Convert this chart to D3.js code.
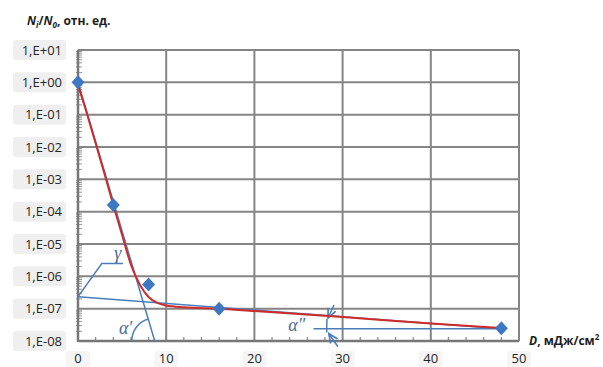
<!DOCTYPE html>
<html>
<head>
<meta charset="utf-8">
<script src="https://cdn.jsdelivr.net/npm/d3@7"></script>
<style>
  body { margin: 0; background: #fff; }
  svg { display: block; font-family: "Open Sans", sans-serif; }
</style>
</head>
<body>
<div id="container"></div>
<script>
/**
 * DATA
 * */
// measured points (blue diamonds)
const dose = [0, 4, 8, 16, 48]
const ratio = [1, 1.6e-4, 5.6e-7, 1.0e-7, 2.5e-8]

// fitted curve (red)
const fitDose = [0, 1, 2, 3, 4, 5, 6, 7, 8, 9, 10, 12, 16, 20, 30, 40, 48]
const fitRatio = [0.85, 1.1e-1, 1.3e-2, 1.5e-3, 1.6e-4, 1.9e-5, 2.3e-6, 5.6e-7, 2.3e-7,
  1.5e-7, 1.25e-7, 1.1e-7, 1.0e-7, 8.4e-8, 5.5e-8, 3.5e-8, 2.5e-8]

// construction lines (blue)
const fastDose = [0, 8.7]
const fastRatio = [1, 1e-8]
const slowDose = [0, 48]
const slowRatio = [2.35e-7, 2.4e-8]
const baseDose = [26.7, 48]
const baseRatio = [2.4e-8, 2.4e-8]
const gammaDose = [0, 2.7, 5.1]
const gammaRatio = [2.35e-7, 2.5e-6, 2.5e-6]

// ticks
const xTicks = [0, 10, 20, 30, 40, 50]
const yTicks = [1e1, 1e0, 1e-1, 1e-2, 1e-3, 1e-4, 1e-5, 1e-6, 1e-7, 1e-8]
const yTickLabels = ['1,E+01', '1,E+00', '1,E-01', '1,E-02', '1,E-03', '1,E-04', '1,E-05', '1,E-06', '1,E-07', '1,E-08']

/**
 * CONSTANTS
 * */
const width = 603,
  height = 367,
  margin = { top: 50, bottom: 26, left: 78, right: 84 }

const blue = '#4a7ebb',
  red = '#cf2b2b',
  grid = '#858585'

const svg = d3.select('#container')
  .append('svg')
  .attr('width', width)
  .attr('height', height)

const x = d3.scaleLinear().domain([0, 50]).range([margin.left, width - margin.right])
const y = d3.scaleLog().domain([1e-8, 10]).range([height - margin.bottom, margin.top])

// grid
svg.append('g')
  .selectAll('line')
  .data(yTicks)
  .join('line')
  .attr('x1', x(0)).attr('x2', x(50))
  .attr('y1', d => y(d)).attr('y2', d => y(d))
  .attr('stroke', grid).attr('stroke-width', 2)

svg.append('g')
  .selectAll('line')
  .data(xTicks.slice(1))
  .join('line')
  .attr('x1', d => x(d)).attr('x2', d => x(d))
  .attr('y1', y(10)).attr('y2', y(1e-8))
  .attr('stroke', grid).attr('stroke-width', 2)

// y minor ticks (log)
const minor = []
yTicks.slice(1).forEach(t => { for (let k = 2; k <= 9; k++) minor.push(t * k) })
svg.append('g')
  .selectAll('line')
  .data(minor)
  .join('line')
  .attr('x1', x(0) - 2).attr('x2', x(0) + 4)
  .attr('y1', d => y(d)).attr('y2', d => y(d))
  .attr('stroke', '#999').attr('stroke-width', 1)

// x minor ticks
svg.append('g')
  .selectAll('line')
  .data(d3.range(0, 51, 2))
  .join('line')
  .attr('x1', d => x(d)).attr('x2', d => x(d))
  .attr('y1', y(1e-8)).attr('y2', y(1e-8) - 4)
  .attr('stroke', '#888').attr('stroke-width', 1.2)

// axes lines
svg.append('line')
  .attr('x1', x(0)).attr('x2', x(0))
  .attr('y1', y(10)).attr('y2', y(1e-8) + 1)
  .attr('stroke', '#777').attr('stroke-width', 2.5)
svg.append('line')
  .attr('x1', x(0)).attr('x2', x(50))
  .attr('y1', y(1e-8)).attr('y2', y(1e-8))
  .attr('stroke', '#777').attr('stroke-width', 2.4)

// y tick labels with light boxes
const yl = svg.append('g')
  .selectAll('g')
  .data(yTicks)
  .join('g')
  .attr('transform', d => `translate(62,${y(d)})`)
yl.append('rect')
  .attr('x', -49).attr('y', -10).attr('width', 53).attr('height', 20)
  .attr('rx', 3).attr('fill', '#efefef')
yl.append('text')
  .attr('text-anchor', 'end')
  .attr('dy', '0.36em')
  .attr('font-size', 13)
  .attr('fill', '#262626')
  .text((d, i) => yTickLabels[i])

// x tick labels
const xl = svg.append('g')
  .selectAll('g')
  .data(xTicks)
  .join('g')
  .attr('transform', d => `translate(${x(d)},${y(1e-8)})`)
xl.append('rect')
  .attr('x', -12).attr('y', 10).attr('width', 24).attr('height', 16)
  .attr('rx', 3).attr('fill', '#f5f5f5')
xl.append('text')
  .attr('text-anchor', 'middle')
  .attr('y', 22)
  .attr('font-size', 13)
  .attr('fill', '#262626')
  .text(d => d)

// construction lines
const line = d3.line().x(d => x(d[0])).y(d => y(d[1]))
const blueLines = [
  d3.zip(fastDose, fastRatio),
  d3.zip(slowDose, slowRatio),
  d3.zip(baseDose, baseRatio),
  d3.zip(gammaDose, gammaRatio)
]
svg.append('g')
  .selectAll('path')
  .data(blueLines)
  .join('path')
  .attr('d', line)
  .attr('fill', 'none')
  .attr('stroke', blue)
  .attr('stroke-width', 1.5)

// angle alpha' at fast line / x axis
const a1x = x(fastDose[1]), a1y = y(fastRatio[1])
const a1ang = Math.atan2(y(fastRatio[0]) - a1y, x(fastDose[0]) - a1x)
const p1 = d3.path()
p1.arc(a1x, a1y, 23, Math.PI, 2 * Math.PI + a1ang)
svg.append('path')
  .attr('d', p1.toString())
  .attr('fill', 'none').attr('stroke', blue).attr('stroke-width', 1.5)

// angle alpha'' at slow line / horizontal
const a2x = x(slowDose[1]), a2y = y(slowRatio[1])
const a2ang = Math.atan2(y(slowRatio[0]) - a2y, x(slowDose[0]) - a2x)
const r2 = a2x - x(28.2)
const p2 = d3.path()
p2.arc(a2x, a2y, r2, Math.PI - 0.022, 2 * Math.PI + a2ang - 0.02, false)
svg.append('path')
  .attr('d', p2.toString())
  .attr('fill', 'none').attr('stroke', blue).attr('stroke-width', 1.5)

svg.append('defs').append('marker')
  .attr('id', 'arr')
  .attr('viewBox', '0 0 10 10')
  .attr('refX', 9).attr('refY', 5)
  .attr('markerWidth', 7).attr('markerHeight', 7)
  .attr('orient', 'auto')
  .append('path')
  .attr('d', 'M0,1 L9,5 L0,9')
  .attr('fill', 'none').attr('stroke', blue).attr('stroke-width', 1.6)

const topEnd = [a2x + r2 * Math.cos(a2ang - 0.02), a2y + r2 * Math.sin(2 * Math.PI + a2ang - 0.02)]
const botEnd = [a2x + r2 * Math.cos(Math.PI - 0.022), a2y + r2 * Math.sin(Math.PI - 0.022)]
svg.append('line')
  .attr('x1', topEnd[0] + 7).attr('y1', topEnd[1] - 14)
  .attr('x2', topEnd[0] + 1).attr('y2', topEnd[1] - 1)
  .attr('stroke', blue).attr('stroke-width', 1.5).attr('marker-end', 'url(#arr)')
svg.append('line')
  .attr('x1', botEnd[0] + 11).attr('y1', botEnd[1] + 14)
  .attr('x2', botEnd[0] + 2).attr('y2', botEnd[1] + 1)
  .attr('stroke', blue).attr('stroke-width', 1.5).attr('marker-end', 'url(#arr)')

// fitted curve
svg.append('path')
  .datum(d3.zip(fitDose, fitRatio))
  .attr('d', d3.line().x(d => x(d[0])).y(d => y(d[1])).curve(d3.curveMonotoneX))
  .attr('fill', 'none')
  .attr('stroke', red)
  .attr('stroke-width', 2)

// measured points
svg.append('g')
  .selectAll('path')
  .data(d3.zip(dose, ratio))
  .join('path')
  .attr('transform', d => `translate(${x(d[0])},${y(d[1])})`)
  .attr('d', 'M0,-7 L6.5,0 L0,7 L-6.5,0Z')
  .attr('fill', '#3f78c2')

// greek labels
const greek = svg.append('g')
  .attr('font-family', '"Liberation Serif", "DejaVu Serif", serif')
  .attr('font-style', 'italic')
  .attr('font-size', 18)
  .attr('fill', '#4a6a96')
  .attr('text-anchor', 'middle')
greek.append('text').attr('x', x(4.5)).attr('y', y(3.5e-6)).text('γ')
greek.append('text').attr('x', x(5.4)).attr('y', y(1.7e-8)).text('α′')
greek.append('text').attr('x', x(24.8)).attr('y', y(2.0e-8)).text('α″')

// axis titles
const title = svg.append('text')
  .attr('x', 27).attr('y', 25)
  .attr('font-size', 12)
  .attr('font-weight', 'bold')
  .attr('fill', '#1e1e1e')
title.append('tspan').attr('font-style', 'italic').text('N')
title.append('tspan').attr('font-style', 'italic').attr('font-size', 8).attr('dy', 3).text('i')
title.append('tspan').attr('dy', -3).text('/')
title.append('tspan').attr('font-style', 'italic').text('N')
title.append('tspan').attr('font-style', 'italic').attr('font-size', 8).attr('dy', 3).text('0')
title.append('tspan').attr('dy', -3).text(', отн. ед.')

const xTitle = svg.append('text')
  .attr('x', 529).attr('y', 345)
  .attr('font-size', 12)
  .attr('font-weight', 'bold')
  .attr('fill', '#1e1e1e')
xTitle.append('tspan').attr('font-style', 'italic').text('D')
xTitle.append('tspan').text(', мДж/см')
xTitle.append('tspan').attr('font-size', 8).attr('dy', -5).text('2')
</script>
</body>
</html>
